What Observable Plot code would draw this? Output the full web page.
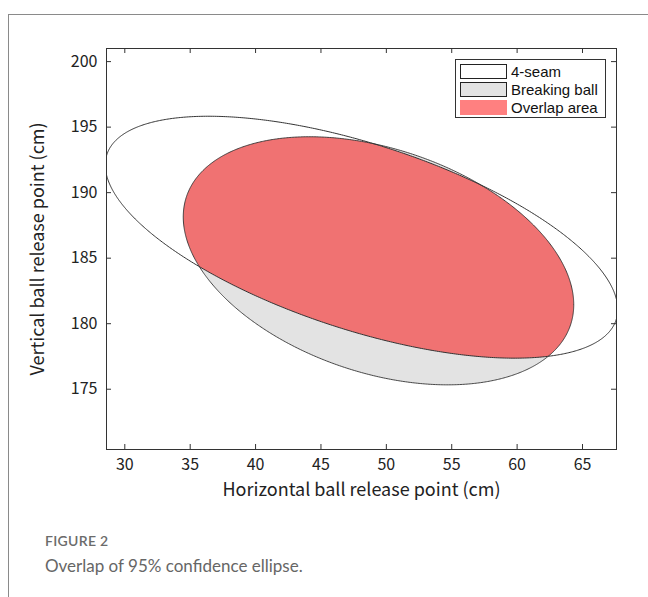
<!DOCTYPE html>
<html><head><meta charset="utf-8">
<script src="https://cdn.jsdelivr.net/npm/d3@7"></script>
<script src="https://cdn.jsdelivr.net/npm/@observablehq/plot@0.6"></script>
<style>
body{margin:0;background:#fff;width:648px;height:597px;overflow:hidden;position:relative;font-family:"Noto Sans CJK JP","Liberation Sans",sans-serif;}
#border{position:absolute;left:8px;top:14px;width:700px;height:700px;border-left:1px solid #8a8a8a;border-top:1px solid #8a8a8a;}
#chart{position:absolute;left:0;top:0;}
#legend{position:absolute;left:455px;top:59px;width:151px;height:59px;border:1px solid #333;background:#fff;box-sizing:border-box;}
.row{position:absolute;left:4px;height:16px;}
.sw{position:absolute;left:0;top:0;width:47px;height:15px;box-sizing:border-box;}
.lt{position:absolute;left:51px;top:-1px;font-family:"Liberation Sans",Arial,sans-serif;font-size:15px;color:#111;white-space:nowrap;line-height:17px;height:17px;}
#fig{position:absolute;left:45px;top:532px;font-family:Lato,"Open Sans",sans-serif;font-size:14px;font-weight:600;color:#6b6b6b;letter-spacing:0.3px;}
#cap{position:absolute;left:45px;top:555px;font-family:Lato,"Open Sans",sans-serif;font-size:17px;color:#666;}
</style></head>
<body>
<div id="border"></div>
<div id="chart"></div>
<div id="legend"></div>
<div id="fig">FIGURE 2</div>
<div id="cap">Overlap of 95% confidence ellipse.</div>
<script>
// Series (95% confidence ellipses): centre and covariance
const seriesNames = ["4-seam", "Breaking ball", "Overlap area"];
const centerX = [48.1, 49.4];
const centerY = [186.6, 184.8];
const varX = [384, 222.9];
const varY = [85.2, 89.6];
const covXY = [-108, -50];
const xTicks = [30, 35, 40, 45, 50, 55, 60, 65];
const yTicks = [175, 180, 185, 190, 195, 200];
const xLabel = "Horizontal ball release point (cm)";
const yLabel = "Vertical ball release point (cm)";

const N = 720;
function ellipse(i) {
  const l11 = Math.sqrt(varX[i]);
  const l21 = covXY[i] / l11;
  const l22 = Math.sqrt(varY[i] - l21 * l21);
  const pts = [];
  for (let k = 0; k < N; k++) {
    const t = 2 * Math.PI * k / N;
    pts.push({x: centerX[i] + l11 * Math.cos(t), y: centerY[i] + l21 * Math.cos(t) + l22 * Math.sin(t)});
  }
  return pts;
}
function inside(i, p) {
  const dx = p.x - centerX[i], dy = p.y - centerY[i];
  const D = varX[i] * varY[i] - covXY[i] * covXY[i];
  return (varY[i] * dx * dx - 2 * covXY[i] * dx * dy + varX[i] * dy * dy) / D <= 1;
}
const e0 = ellipse(0), e1 = ellipse(1);
let ov = e0.filter(p => inside(1, p)).concat(e1.filter(p => inside(0, p)));
const cx = d3.mean(ov, p => p.x), cy = d3.mean(ov, p => p.y);
ov.sort((a, b) => Math.atan2((a.y - cy), (a.x - cx)) - Math.atan2((b.y - cy), (b.x - cx)));

const fill4 = "#ffffff", fillBB = "#e3e3e3", fillOv = "#f07272", fillOvLegend = "#ff8080";

const chart = Plot.plot({
  width: 648, height: 500,
  marginLeft: 106, marginRight: 32, marginTop: 48, marginBottom: 51,
  x: {domain: [28.6, 67.6]},
  y: {domain: [170.4, 201]},
  style: {fontFamily: '"Noto Sans CJK JP","Liberation Sans",sans-serif', fontSize: "16px", color: "#222", background: "transparent"},
  marks: [
    Plot.line(e1, {x: "x", y: "y", curve: "linear-closed", fill: fillBB, stroke: "none", clip: true}),
    Plot.line(ov, {x: "x", y: "y", curve: "linear-closed", fill: fillOv, stroke: "none", clip: true}),
    Plot.line(e1, {x: "x", y: "y", curve: "linear-closed", fill: "none", stroke: "#333", strokeWidth: 0.9, clip: true}),
    Plot.line(e0, {x: "x", y: "y", curve: "linear-closed", fill: "none", stroke: "#333", strokeWidth: 1, clip: true}),
    Plot.frame({stroke: "#333"}),
    Plot.ruleX(xTicks, {x: d => d, insetTop: 396, stroke: "#333"}),
    Plot.ruleX(xTicks, {x: d => d, insetBottom: 396, stroke: "#333"}),
    Plot.ruleY(yTicks, {y: d => d, insetRight: 505, stroke: "#333"}),
    Plot.ruleY(yTicks, {y: d => d, insetLeft: 505, stroke: "#333"}),
    Plot.axisX(xTicks, {tickSize: 0, tickPadding: 9, label: null, fontSize: 16}),
    Plot.axisY(yTicks, {tickSize: 0, tickPadding: 9, label: null, fontSize: 16}),
    Plot.text([xLabel], {text: d => d, frameAnchor: "bottom", dy: 46, fontSize: 18, fill: "#222"}),
    Plot.text([yLabel], {text: d => d, frameAnchor: "left", textAnchor: "middle", dx: -68, rotate: -90, fontSize: 18, fill: "#222"})
  ]
});
document.getElementById("chart").appendChild(chart);

const legend = document.getElementById("legend");
const swStyles = [
  `background:${fill4};border:1px solid #222;`,
  `background:${fillBB};border:1px solid #222;`,
  `background:${fillOvLegend};`
];
seriesNames.forEach((name, i) => {
  const row = document.createElement("div");
  row.className = "row";
  row.style.top = (4 + i * 18) + "px";
  row.innerHTML = `<div class="sw" style="${swStyles[i]}"></div><div class="lt">${name}</div>`;
  legend.appendChild(row);
});
</script>
</body></html>
